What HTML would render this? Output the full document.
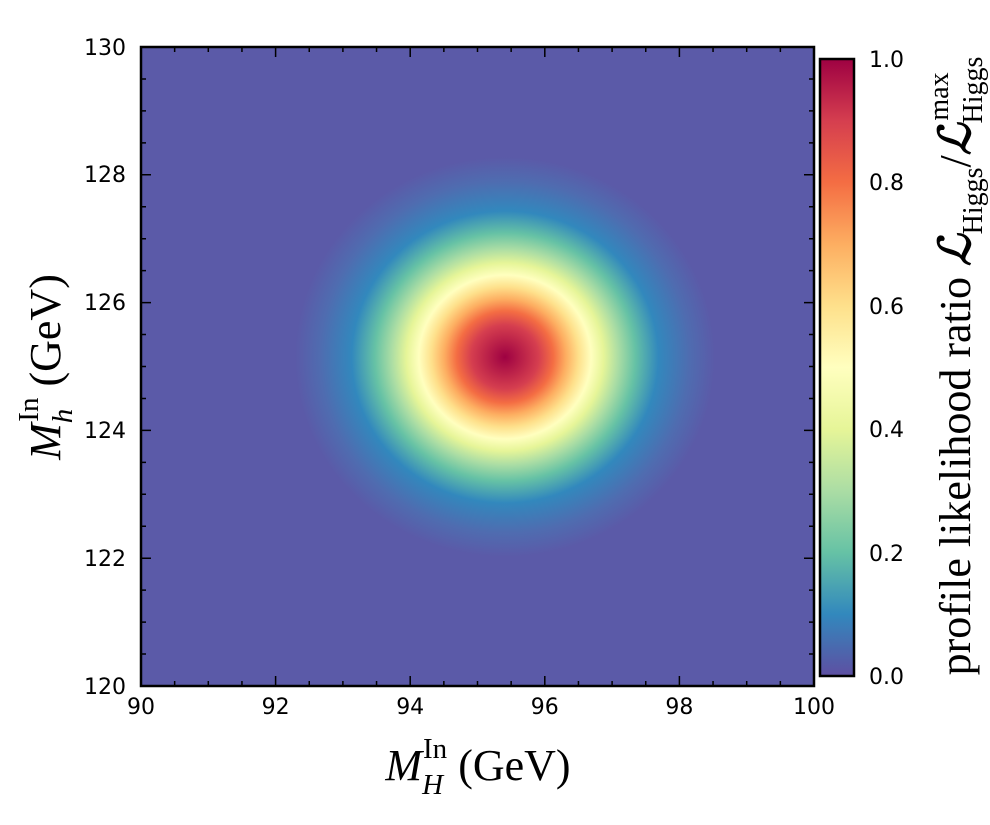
<!DOCTYPE html>
<html><head><style>body{margin:0;background:#fff}svg{display:block}</style></head><body>
<svg width="990" height="825" viewBox="0 0 990 825" xmlns="http://www.w3.org/2000/svg">
<defs>
<radialGradient id="g" gradientUnits="userSpaceOnUse" cx="0" cy="0" r="200" gradientTransform="translate(505,357) scale(1.05,1)">
<stop offset="0" stop-color="#9e0142"/>
<stop offset="0.16" stop-color="#d53e4f"/>
<stop offset="0.23" stop-color="#f46d43"/>
<stop offset="0.29" stop-color="#fdae61"/>
<stop offset="0.35" stop-color="#fee08b"/>
<stop offset="0.41" stop-color="#ffffbf"/>
<stop offset="0.47" stop-color="#e6f598"/>
<stop offset="0.54" stop-color="#abdda4"/>
<stop offset="0.62" stop-color="#66c2a5"/>
<stop offset="0.73" stop-color="#3288bd"/>
<stop offset="0.88" stop-color="#4f6cb0"/>
<stop offset="1" stop-color="#5b5aa8"/>
</radialGradient>
<linearGradient id="cb" x1="0" y1="1" x2="0" y2="0">
<stop offset="0" stop-color="#5e4fa2"/><stop offset="0.1" stop-color="#3288bd"/><stop offset="0.2" stop-color="#66c2a5"/><stop offset="0.3" stop-color="#abdda4"/><stop offset="0.4" stop-color="#e6f598"/><stop offset="0.5" stop-color="#ffffbf"/><stop offset="0.6" stop-color="#fee08b"/><stop offset="0.7" stop-color="#fdae61"/><stop offset="0.8" stop-color="#f46d43"/><stop offset="0.9" stop-color="#d53e4f"/><stop offset="1" stop-color="#9e0142"/>
</linearGradient>
</defs>
<rect x="141" y="47" width="673" height="639" fill="#5b5aa8"/>
<rect x="141" y="47" width="673" height="639" fill="url(#g)"/>
<g stroke="#000" stroke-width="1.5" fill="none">
<path d="M141 686v-10M174.65 686v-5M208.3 686v-5M241.95 686v-5M275.6 686v-10M309.25 686v-5M342.9 686v-5M376.55 686v-5M410.2 686v-10M443.85 686v-5M477.5 686v-5M511.15 686v-5M544.8 686v-10M578.45 686v-5M612.1 686v-5M645.75 686v-5M679.4 686v-10M713.05 686v-5M746.7 686v-5M780.35 686v-5M814 686v-10"/>
<path d="M141 47v10M174.65 47v5M208.3 47v5M241.95 47v5M275.6 47v10M309.25 47v5M342.9 47v5M376.55 47v5M410.2 47v10M443.85 47v5M477.5 47v5M511.15 47v5M544.8 47v10M578.45 47v5M612.1 47v5M645.75 47v5M679.4 47v10M713.05 47v5M746.7 47v5M780.35 47v5M814 47v10"/>
<path d="M141 686h10M141 654.05h5M141 622.1h5M141 590.15h5M141 558.2h10M141 526.25h5M141 494.3h5M141 462.35h5M141 430.4h10M141 398.45h5M141 366.5h5M141 334.55h5M141 302.6h10M141 270.65h5M141 238.7h5M141 206.75h5M141 174.8h10M141 142.85h5M141 110.9h5M141 78.95h5M141 47h10"/>
<path d="M814 686h-10M814 654.05h-5M814 622.1h-5M814 590.15h-5M814 558.2h-10M814 526.25h-5M814 494.3h-5M814 462.35h-5M814 430.4h-10M814 398.45h-5M814 366.5h-5M814 334.55h-5M814 302.6h-10M814 270.65h-5M814 238.7h-5M814 206.75h-5M814 174.8h-10M814 142.85h-5M814 110.9h-5M814 78.95h-5M814 47h-10"/>
<path d="M854 676h-10M854 614.3h-6M854 552.6h-10M854 490.9h-6M854 429.2h-10M854 367.5h-6M854 305.8h-10M854 244.1h-6M854 182.4h-10M854 120.7h-6M854 59h-10"/>
</g>
<rect x="141" y="47" width="673" height="639" fill="none" stroke="#000" stroke-width="2.5"/>
<rect x="820" y="59" width="34" height="617" fill="url(#cb)" stroke="#000" stroke-width="2.5"/>
<g font-family="DejaVu Sans, sans-serif" font-size="22" fill="#000">
<g text-anchor="middle"><text x="141" y="714">90</text><text x="275.6" y="714">92</text><text x="410.2" y="714">94</text><text x="544.8" y="714">96</text><text x="679.4" y="714">98</text><text x="814" y="714">100</text></g>
<g text-anchor="end"><text x="126" y="694">120</text><text x="126" y="566">122</text><text x="126" y="438">124</text><text x="126" y="310">126</text><text x="126" y="182">128</text><text x="126" y="55">130</text></g>
<text x="869" y="684">0.0</text><text x="869" y="561">0.2</text><text x="869" y="437">0.4</text><text x="869" y="314">0.6</text><text x="869" y="190">0.8</text><text x="869" y="67">1.0</text>
</g>
<g font-family="Liberation Serif, serif" font-size="44" fill="#000">
<text x="478" y="780" text-anchor="middle"><tspan font-style="italic">M</tspan><tspan font-size="29" dy="14" font-style="italic">H</tspan><tspan font-size="29" dx="-20" dy="-36">In</tspan><tspan dy="22"> (GeV)</tspan></text>
<text transform="translate(60,367) rotate(-90)" text-anchor="middle"><tspan font-style="italic">M</tspan><tspan font-size="29" dy="12" font-style="italic">h</tspan><tspan font-size="29" dx="-13" dy="-34">In</tspan><tspan dy="22"> (GeV)</tspan></text>
<text transform="translate(970,366) rotate(-90)" text-anchor="middle" font-size="44">profile likelihood ratio <tspan font-style="italic" font-weight="bold">ℒ</tspan><tspan font-size="28" dy="12">Higgs</tspan><tspan dy="-12">/</tspan><tspan font-style="italic" font-weight="bold">ℒ</tspan><tspan font-size="28" dy="12">Higgs</tspan><tspan font-size="28" dx="-64" dy="-34">max</tspan></text>
</g>
</svg>
</body></html>
